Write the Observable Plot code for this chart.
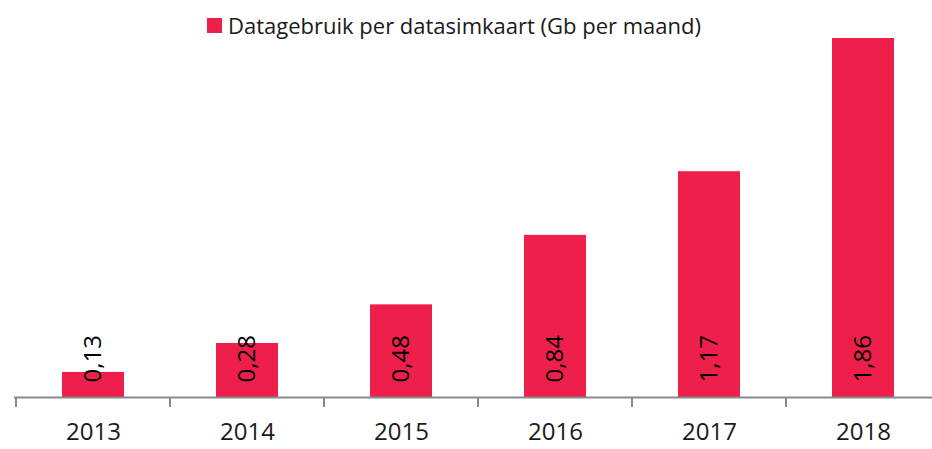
<!DOCTYPE html>
<html>
<head>
<meta charset="utf-8">
<script src="https://cdn.jsdelivr.net/npm/d3@7"></script>
<script src="https://cdn.jsdelivr.net/npm/@observablehq/plot@0.6"></script>
<style>
  html, body { margin: 0; padding: 0; background: #fff; }
  #wrap { position: relative; width: 932px; height: 449px; font-family: "Open Sans", sans-serif; }
  #legend { position: absolute; top: 10px; left: 207px; display: flex; align-items: center; font-size: 22px; color: #1a1a1a; white-space: nowrap; }
  #legend .sw { width: 15px; height: 15px; margin-right: 6px; }
  #chart { position: absolute; top: 0; left: 0; }
</style>
</head>
<body>
<div id="wrap">
  <div id="chart"></div>
  <div id="legend"><span class="sw" id="sw"></span><span id="legtext"></span></div>
</div>
<script>
const seriesName = "Datagebruik per datasimkaart (Gb per maand)";
const years = ["2013", "2014", "2015", "2016", "2017", "2018"];
const values = [0.13, 0.28, 0.48, 0.84, 1.17, 1.86];
const valueLabels = ["0,13", "0,28", "0,48", "0,84", "1,17", "1,86"];

const barColor = "#ee1f4b";
const axisColor = "#898989";

const data = years.map((year, i) => ({year, value: values[i], label: valueLabels[i]}));

document.getElementById("sw").style.background = barColor;
document.getElementById("legtext").textContent = seriesName;

// category boundary ticks drawn through the x scale
function boundaryTicks(index, scales) {
  const x = scales.x, y = scales.y;
  const bw = typeof x.bandwidth === "function" ? x.bandwidth() : x.bandwidth;
  const step = x(years[1]) - x(years[0]);
  const y0 = y(0);
  const g = d3.create("svg:g").attr("stroke", axisColor).attr("stroke-width", 2);
  for (const yr of years) {
    const bx = x(yr) - (step - bw) / 2;
    g.append("line").attr("x1", bx).attr("x2", bx).attr("y1", y0).attr("y2", y0 + 10);
  }
  return g.node();
}

const chart = Plot.plot({
  width: 932,
  height: 449,
  marginTop: 11,
  marginBottom: 52,
  marginLeft: 14,
  marginRight: 0,
  style: {fontFamily: "'Open Sans', sans-serif", fontSize: "24px", color: "#1a1a1a", background: "transparent", overflow: "visible"},
  x: {domain: years, range: [14, 941.6], paddingInner: 0.6, paddingOuter: 0.3, label: null},
  y: {domain: [0, 2], axis: null},
  marks: [
    Plot.barY(data, {x: "year", y: "value", fill: barColor}),
    Plot.ruleY([0], {stroke: axisColor, strokeWidth: 2}),
    boundaryTicks,
    Plot.axisX({tickSize: 0, tickPadding: 25, fontSize: 24, fill: "#1a1a1a", label: null}),
    Plot.text(data, {x: "year", y: 0, text: "label", rotate: -90, textAnchor: "start", lineAnchor: "middle", dy: -15, fill: "#000", fontSize: 24})
  ]
});
document.getElementById("chart").appendChild(chart);
</script>
</body>
</html>
